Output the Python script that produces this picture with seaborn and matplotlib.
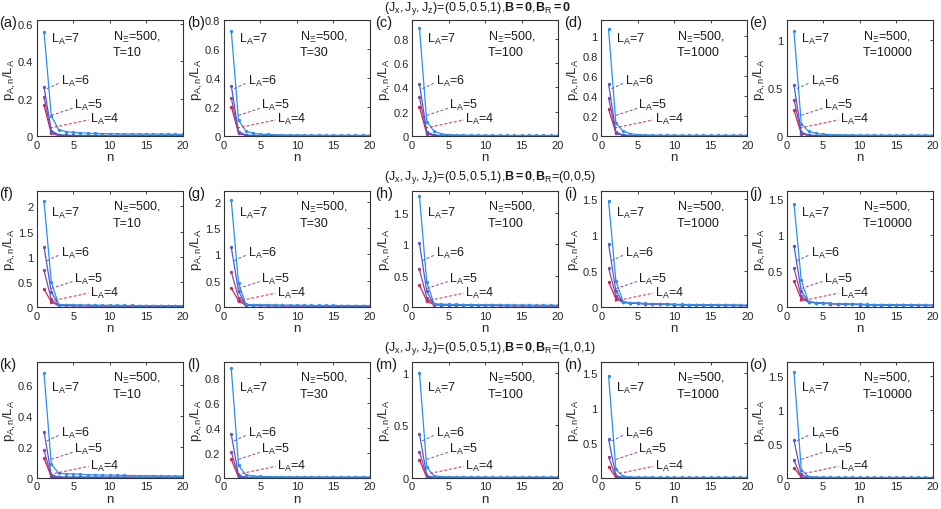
import numpy as np
import pandas as pd
import seaborn as sns
import matplotlib.pyplot as plt
from matplotlib.ticker import FormatStrFormatter

n = np.arange(1, 21)
LA = [4, 5, 6, 7]
T_values = [10, 30, 100, 1000, 10000]
panel_labels = list("abcdefghijklmno")
row_titles = [
    r"$(J_x,J_y,J_z)$=(0.5,0.5,1),$\mathbf{B=0}$,$\mathbf{B}_\mathrm{R}\mathbf{=0}$",
    r"$(J_x,J_y,J_z)$=(0.5,0.5,1),$\mathbf{B=0}$,$\mathbf{B}_\mathrm{R}$=(0,0,5)",
    r"$(J_x,J_y,J_z)$=(0.5,0.5,1),$\mathbf{B=0}$,$\mathbf{B}_\mathrm{R}$=(1,0,1)",
]

# ---- row 1 : B_R = 0
a4 = [0.165, 0.015, 0.004, 0.003, 0.002, 0.002, 0.002, 0.002, 0.002, 0.002, 0.002, 0.002, 0.002, 0.002, 0.002, 0.002, 0.002, 0.002, 0.002, 0.002]
a5 = [0.21, 0.02, 0.006, 0.004, 0.003, 0.003, 0.003, 0.003, 0.003, 0.003, 0.003, 0.003, 0.003, 0.003, 0.003, 0.003, 0.003, 0.003, 0.003, 0.003]
a6 = [0.265, 0.03, 0.008, 0.005, 0.004, 0.004, 0.004, 0.004, 0.004, 0.004, 0.004, 0.004, 0.004, 0.004, 0.004, 0.004, 0.004, 0.004, 0.004, 0.004]
a7 = [0.56, 0.11, 0.035, 0.025, 0.02, 0.018, 0.016, 0.015, 0.014, 0.013, 0.013, 0.012, 0.012, 0.012, 0.011, 0.011, 0.011, 0.011, 0.010, 0.010]

b4 = [0.205, 0.02, 0.005, 0.003, 0.002, 0.002, 0.002, 0.002, 0.002, 0.002, 0.002, 0.002, 0.002, 0.002, 0.002, 0.002, 0.002, 0.002, 0.002, 0.002]
b5 = [0.265, 0.025, 0.006, 0.004, 0.003, 0.003, 0.003, 0.003, 0.003, 0.003, 0.003, 0.003, 0.003, 0.003, 0.003, 0.003, 0.003, 0.003, 0.003, 0.003]
b6 = [0.35, 0.03, 0.008, 0.005, 0.004, 0.004, 0.004, 0.004, 0.004, 0.004, 0.004, 0.004, 0.004, 0.004, 0.004, 0.004, 0.004, 0.004, 0.004, 0.004]
b7 = [0.73, 0.11, 0.035, 0.02, 0.014, 0.012, 0.010, 0.009, 0.008, 0.008, 0.007, 0.007, 0.007, 0.006, 0.006, 0.006, 0.006, 0.006, 0.006, 0.006]

c4 = [0.24, 0.02, 0.005, 0.003, 0.002, 0.002, 0.002, 0.002, 0.002, 0.002, 0.002, 0.002, 0.002, 0.002, 0.002, 0.002, 0.002, 0.002, 0.002, 0.002]
c5 = [0.32, 0.025, 0.007, 0.004, 0.003, 0.003, 0.003, 0.003, 0.003, 0.003, 0.003, 0.003, 0.003, 0.003, 0.003, 0.003, 0.003, 0.003, 0.003, 0.003]
c6 = [0.43, 0.035, 0.01, 0.005, 0.004, 0.004, 0.004, 0.004, 0.004, 0.004, 0.004, 0.004, 0.004, 0.004, 0.004, 0.004, 0.004, 0.004, 0.004, 0.004]
c7 = [0.89, 0.12, 0.04, 0.02, 0.013, 0.010, 0.009, 0.008, 0.008, 0.007, 0.007, 0.007, 0.006, 0.006, 0.006, 0.006, 0.006, 0.006, 0.006, 0.006]

d4 = [0.27, 0.03, 0.008, 0.004, 0.003, 0.003, 0.003, 0.003, 0.003, 0.003, 0.003, 0.003, 0.003, 0.003, 0.003, 0.003, 0.003, 0.003, 0.003, 0.003]
d5 = [0.38, 0.03, 0.01, 0.005, 0.004, 0.004, 0.004, 0.004, 0.004, 0.004, 0.004, 0.004, 0.004, 0.004, 0.004, 0.004, 0.004, 0.004, 0.004, 0.004]
d6 = [0.52, 0.04, 0.012, 0.006, 0.005, 0.005, 0.005, 0.005, 0.005, 0.005, 0.005, 0.005, 0.005, 0.005, 0.005, 0.005, 0.005, 0.005, 0.005, 0.005]
d7 = [1.06, 0.13, 0.05, 0.025, 0.016, 0.012, 0.011, 0.010, 0.009, 0.009, 0.008, 0.008, 0.008, 0.008, 0.008, 0.008, 0.008, 0.008, 0.008, 0.008]

e4 = [0.27, 0.025, 0.008, 0.004, 0.003, 0.003, 0.003, 0.003, 0.003, 0.003, 0.003, 0.003, 0.003, 0.003, 0.003, 0.003, 0.003, 0.003, 0.003, 0.003]
e5 = [0.38, 0.03, 0.01, 0.005, 0.004, 0.004, 0.004, 0.004, 0.004, 0.004, 0.004, 0.004, 0.004, 0.004, 0.004, 0.004, 0.004, 0.004, 0.004, 0.004]
e6 = [0.53, 0.04, 0.012, 0.006, 0.005, 0.005, 0.005, 0.005, 0.005, 0.005, 0.005, 0.005, 0.005, 0.005, 0.005, 0.005, 0.005, 0.005, 0.005, 0.005]
e7 = [1.09, 0.13, 0.05, 0.03, 0.02, 0.016, 0.014, 0.013, 0.012, 0.011, 0.011, 0.010, 0.010, 0.010, 0.010, 0.010, 0.010, 0.010, 0.010, 0.010]

# ---- row 2 : B_R = (0,0,5)
f4 = [0.36, 0.10, 0.03, 0.028, 0.026, 0.025, 0.024, 0.023, 0.022, 0.021, 0.02, 0.02, 0.019, 0.019, 0.018, 0.018, 0.017, 0.017, 0.016, 0.016]
f5 = [0.73, 0.15, 0.035, 0.032, 0.03, 0.028, 0.027, 0.026, 0.025, 0.024, 0.023, 0.022, 0.021, 0.021, 0.02, 0.02, 0.019, 0.019, 0.018, 0.018]
f6 = [1.20, 0.30, 0.04, 0.036, 0.034, 0.032, 0.031, 0.030, 0.029, 0.028, 0.027, 0.026, 0.025, 0.024, 0.023, 0.023, 0.022, 0.022, 0.021, 0.021]
f7 = [2.10, 0.50, 0.05, 0.045, 0.042, 0.04, 0.038, 0.036, 0.035, 0.034, 0.033, 0.032, 0.031, 0.03, 0.03, 0.029, 0.029, 0.028, 0.028, 0.028]

g4 = [0.36, 0.12, 0.03, 0.028, 0.026, 0.025, 0.024, 0.023, 0.022, 0.021, 0.02, 0.02, 0.019, 0.019, 0.018, 0.018, 0.017, 0.017, 0.016, 0.016]
g5 = [0.67, 0.18, 0.035, 0.032, 0.03, 0.028, 0.027, 0.026, 0.025, 0.024, 0.023, 0.022, 0.021, 0.021, 0.02, 0.02, 0.019, 0.019, 0.018, 0.018]
g6 = [1.14, 0.30, 0.04, 0.036, 0.034, 0.032, 0.031, 0.030, 0.029, 0.028, 0.027, 0.026, 0.025, 0.024, 0.023, 0.023, 0.022, 0.022, 0.021, 0.021]
g7 = [2.03, 0.45, 0.05, 0.045, 0.042, 0.04, 0.038, 0.036, 0.035, 0.034, 0.033, 0.032, 0.031, 0.03, 0.03, 0.029, 0.029, 0.028, 0.028, 0.028]

h4 = [0.35, 0.10, 0.035, 0.032, 0.03, 0.028, 0.027, 0.026, 0.025, 0.024, 0.023, 0.022, 0.021, 0.02, 0.02, 0.019, 0.019, 0.018, 0.018, 0.017]
h5 = [0.60, 0.15, 0.04, 0.036, 0.034, 0.032, 0.03, 0.029, 0.028, 0.027, 0.026, 0.025, 0.024, 0.023, 0.022, 0.022, 0.021, 0.021, 0.02, 0.02]
h6 = [1.02, 0.25, 0.045, 0.04, 0.038, 0.036, 0.034, 0.032, 0.031, 0.03, 0.029, 0.028, 0.027, 0.026, 0.025, 0.025, 0.024, 0.024, 0.023, 0.023]
h7 = [1.77, 0.40, 0.05, 0.046, 0.043, 0.041, 0.039, 0.037, 0.036, 0.035, 0.034, 0.033, 0.032, 0.031, 0.03, 0.03, 0.029, 0.029, 0.028, 0.028]

i4 = [0.35, 0.11, 0.07, 0.055, 0.05, 0.046, 0.042, 0.039, 0.036, 0.034, 0.032, 0.03, 0.028, 0.026, 0.025, 0.023, 0.022, 0.021, 0.02, 0.019]
i5 = [0.54, 0.15, 0.065, 0.055, 0.05, 0.046, 0.042, 0.039, 0.036, 0.034, 0.032, 0.03, 0.028, 0.027, 0.026, 0.024, 0.023, 0.022, 0.021, 0.02]
i6 = [0.87, 0.22, 0.065, 0.056, 0.05, 0.046, 0.043, 0.04, 0.037, 0.035, 0.033, 0.031, 0.03, 0.028, 0.027, 0.026, 0.025, 0.024, 0.023, 0.022]
i7 = [1.47, 0.36, 0.07, 0.06, 0.054, 0.05, 0.046, 0.043, 0.04, 0.038, 0.036, 0.034, 0.032, 0.031, 0.03, 0.029, 0.028, 0.027, 0.026, 0.025]

j4 = [0.36, 0.11, 0.075, 0.06, 0.052, 0.047, 0.043, 0.04, 0.037, 0.035, 0.033, 0.031, 0.029, 0.027, 0.026, 0.024, 0.023, 0.022, 0.021, 0.02]
j5 = [0.54, 0.15, 0.07, 0.058, 0.052, 0.047, 0.043, 0.04, 0.037, 0.035, 0.033, 0.031, 0.029, 0.028, 0.026, 0.025, 0.024, 0.023, 0.022, 0.021]
j6 = [0.85, 0.22, 0.07, 0.058, 0.052, 0.048, 0.044, 0.041, 0.038, 0.036, 0.034, 0.032, 0.03, 0.029, 0.028, 0.027, 0.026, 0.025, 0.024, 0.023]
j7 = [1.43, 0.37, 0.07, 0.06, 0.055, 0.05, 0.046, 0.043, 0.04, 0.038, 0.036, 0.034, 0.033, 0.032, 0.031, 0.03, 0.029, 0.028, 0.027, 0.026]

# ---- row 3 : B_R = (1,0,1)
k4 = [0.13, 0.005, 0.002, 0.002, 0.002, 0.002, 0.002, 0.002, 0.002, 0.002, 0.002, 0.002, 0.002, 0.002, 0.002, 0.002, 0.002, 0.002, 0.002, 0.002]
k5 = [0.18, 0.01, 0.004, 0.003, 0.003, 0.003, 0.003, 0.003, 0.003, 0.003, 0.003, 0.003, 0.003, 0.003, 0.003, 0.003, 0.003, 0.003, 0.003, 0.003]
k6 = [0.30, 0.02, 0.006, 0.005, 0.005, 0.005, 0.005, 0.005, 0.005, 0.005, 0.005, 0.005, 0.005, 0.005, 0.005, 0.005, 0.005, 0.005, 0.005, 0.005]
k7 = [0.68, 0.09, 0.03, 0.027, 0.025, 0.023, 0.021, 0.02, 0.019, 0.018, 0.017, 0.016, 0.015, 0.015, 0.014, 0.014, 0.013, 0.013, 0.012, 0.012]

l4 = [0.15, 0.005, 0.002, 0.002, 0.002, 0.002, 0.002, 0.002, 0.002, 0.002, 0.002, 0.002, 0.002, 0.002, 0.002, 0.002, 0.002, 0.002, 0.002, 0.002]
l5 = [0.21, 0.01, 0.003, 0.003, 0.003, 0.003, 0.003, 0.003, 0.003, 0.003, 0.003, 0.003, 0.003, 0.003, 0.003, 0.003, 0.003, 0.003, 0.003, 0.003]
l6 = [0.35, 0.02, 0.005, 0.004, 0.004, 0.004, 0.004, 0.004, 0.004, 0.004, 0.004, 0.004, 0.004, 0.004, 0.004, 0.004, 0.004, 0.004, 0.004, 0.004]
l7 = [0.88, 0.10, 0.025, 0.015, 0.012, 0.01, 0.009, 0.008, 0.008, 0.007, 0.007, 0.007, 0.006, 0.006, 0.006, 0.006, 0.006, 0.006, 0.006, 0.006]

m4 = [0.17, 0.005, 0.002, 0.002, 0.002, 0.002, 0.002, 0.002, 0.002, 0.002, 0.002, 0.002, 0.002, 0.002, 0.002, 0.002, 0.002, 0.002, 0.002, 0.002]
m5 = [0.25, 0.01, 0.003, 0.003, 0.003, 0.003, 0.003, 0.003, 0.003, 0.003, 0.003, 0.003, 0.003, 0.003, 0.003, 0.003, 0.003, 0.003, 0.003, 0.003]
m6 = [0.42, 0.02, 0.005, 0.004, 0.004, 0.004, 0.004, 0.004, 0.004, 0.004, 0.004, 0.004, 0.004, 0.004, 0.004, 0.004, 0.004, 0.004, 0.004, 0.004]
m7 = [1.00, 0.10, 0.02, 0.012, 0.01, 0.009, 0.008, 0.007, 0.007, 0.006, 0.006, 0.006, 0.006, 0.006, 0.006, 0.006, 0.006, 0.006, 0.006, 0.006]

n4 = [0.16, 0.005, 0.002, 0.002, 0.002, 0.002, 0.002, 0.002, 0.002, 0.002, 0.002, 0.002, 0.002, 0.002, 0.002, 0.002, 0.002, 0.002, 0.002, 0.002]
n5 = [0.30, 0.01, 0.003, 0.003, 0.003, 0.003, 0.003, 0.003, 0.003, 0.003, 0.003, 0.003, 0.003, 0.003, 0.003, 0.003, 0.003, 0.003, 0.003, 0.003]
n6 = [0.55, 0.03, 0.005, 0.004, 0.004, 0.004, 0.004, 0.004, 0.004, 0.004, 0.004, 0.004, 0.004, 0.004, 0.004, 0.004, 0.004, 0.004, 0.004, 0.004]
n7 = [1.45, 0.12, 0.02, 0.012, 0.01, 0.009, 0.008, 0.007, 0.007, 0.006, 0.006, 0.006, 0.006, 0.006, 0.006, 0.006, 0.006, 0.006, 0.006, 0.006]

o4 = [0.15, 0.01, 0.002, 0.002, 0.002, 0.002, 0.002, 0.002, 0.002, 0.002, 0.002, 0.002, 0.002, 0.002, 0.002, 0.002, 0.002, 0.002, 0.002, 0.002]
o5 = [0.26, 0.01, 0.003, 0.003, 0.003, 0.003, 0.003, 0.003, 0.003, 0.003, 0.003, 0.003, 0.003, 0.003, 0.003, 0.003, 0.003, 0.003, 0.003, 0.003]
o6 = [0.55, 0.05, 0.006, 0.004, 0.004, 0.004, 0.004, 0.004, 0.004, 0.004, 0.004, 0.004, 0.004, 0.004, 0.004, 0.004, 0.004, 0.004, 0.004, 0.004]
o7 = [1.56, 0.12, 0.02, 0.012, 0.01, 0.009, 0.008, 0.007, 0.007, 0.006, 0.006, 0.006, 0.006, 0.006, 0.006, 0.006, 0.006, 0.006, 0.006, 0.006]

panels = [
    [a4, a5, a6, a7], [b4, b5, b6, b7], [c4, c5, c6, c7], [d4, d5, d6, d7], [e4, e5, e6, e7],
    [f4, f5, f6, f7], [g4, g5, g6, g7], [h4, h5, h6, h7], [i4, i5, i6, i7], [j4, j5, j6, j7],
    [k4, k5, k6, k7], [l4, l5, l6, l7], [m4, m5, m6, m7], [n4, n5, n6, n7], [o4, o5, o6, o7],
]
ytops = [0.62, 0.8, 0.95, 1.15, 1.2,
         2.3, 2.2, 1.85, 1.6, 1.6,
         0.75, 0.93, 1.1, 1.65, 1.7]
ysteps = [0.2, 0.2, 0.2, 0.2, 0.5,
          0.5, 0.5, 0.5, 0.5, 0.5,
          0.2, 0.2, 0.5, 0.5, 0.5]

colors = {4: "#c8284f", 5: "#8a44a6", 6: "#4f5bd0", 7: "#2a8ff5"}

sns.set_theme(style="white")
plt.rcParams["font.family"] = ["Liberation Sans", "DejaVu Sans"]
plt.rcParams["mathtext.fontset"] = "custom"
plt.rcParams["mathtext.rm"] = "Liberation Sans"
plt.rcParams["mathtext.bf"] = "Liberation Sans:bold"
plt.rcParams["mathtext.it"] = "Liberation Sans:italic"
plt.rcParams["mathtext.default"] = "regular"
plt.rcParams["xtick.direction"] = "in"
plt.rcParams["ytick.direction"] = "in"

fig = plt.figure(figsize=(9.41, 5.1), dpi=100)

lefts = [0.039, 0.238, 0.438, 0.639, 0.836]
bottoms = [0.731, 0.396, 0.061]
title_y = [0.984, 0.651, 0.316]
w, h = 0.155, 0.227

# label heights (axes fraction) per row for L_A = 4, 5, 6, 7
lab_y = [[0.15, 0.27, 0.48, 0.84], [0.13, 0.25, 0.47, 0.82], [0.11, 0.25, 0.39, 0.78]]

for idx, series in enumerate(panels):
    r, c = divmod(idx, 5)
    ax = fig.add_axes([lefts[c], bottoms[r], w, h])
    for la, vals in zip(LA, series):
        df = pd.DataFrame({"n": n, "p": vals})
        sns.lineplot(data=df, x="n", y="p", ax=ax, color=colors[la], marker="o",
                     markersize=2.4, markeredgewidth=0, linewidth=0.9)
    ax.set_xlim(0, 20)
    ax.set_ylim(0, ytops[idx])
    ax.set_xticks([0, 5, 10, 15, 20])
    ax.set_yticks(np.arange(0, ytops[idx] + 1e-9, ysteps[idx]))
    ax.yaxis.set_major_formatter(FormatStrFormatter("%g"))
    ax.tick_params(labelsize=8, colors="#262626", length=2.5, width=0.6,
                   top=True, right=True, pad=2.5)
    for sp in ax.spines.values():
        sp.set_color("#333333")
        sp.set_linewidth(0.8)
    ax.set_xlabel("n", fontsize=9.5, color="#262626", labelpad=1)
    ax.set_ylabel(r"$p_{A,n}/L_A$", fontsize=9.5, color="#262626", labelpad=0)

    y4, y5, y6, y7 = lab_y[r]
    ax.text(0.10, y7, r"L$_\mathregular{A}$=7", transform=ax.transAxes,
            fontsize=9, va="center", color="#1a1a1a")
    ax.text(0.165, y6, r"L$_\mathregular{A}$=6", transform=ax.transAxes,
            fontsize=9, va="center", color="#1a1a1a")
    ax.text(0.255, y5, r"L$_\mathregular{A}$=5", transform=ax.transAxes,
            fontsize=9, va="center", color="#1a1a1a")
    ax.text(0.365, y4, r"L$_\mathregular{A}$=4", transform=ax.transAxes,
            fontsize=9, va="center", color="#1a1a1a")
    ls = (0, (3, 2))
    ax.plot([0.07, 0.155], [y6 - 0.07, y6 - 0.02], transform=ax.transAxes,
            color=colors[6], lw=0.7, ls=ls)
    ax.plot([0.10, 0.245], [y5 - 0.09, y5 - 0.03], transform=ax.transAxes,
            color=colors[5], lw=0.7, ls=ls)
    ax.plot([0.09, 0.355], [y4 - 0.08, y4 - 0.01], transform=ax.transAxes,
            color=colors[4], lw=0.7, ls=ls)

    ax.text(0.52, 0.93, "N$_\\Xi$=500,\nT=%d" % T_values[c], transform=ax.transAxes,
            fontsize=9, va="top", ha="left", color="#1a1a1a", linespacing=1.3)
    ax.text(-0.255, 0.985, "(%s)" % panel_labels[idx], transform=ax.transAxes,
            fontsize=10.5, va="center", ha="left", color="#1a1a1a")

for r, title in enumerate(row_titles):
    fig.text(0.408, title_y[r], title, fontsize=9, ha="left",
             va="center", color="#1a1a1a")

fig.savefig("out.png", dpi=100)
